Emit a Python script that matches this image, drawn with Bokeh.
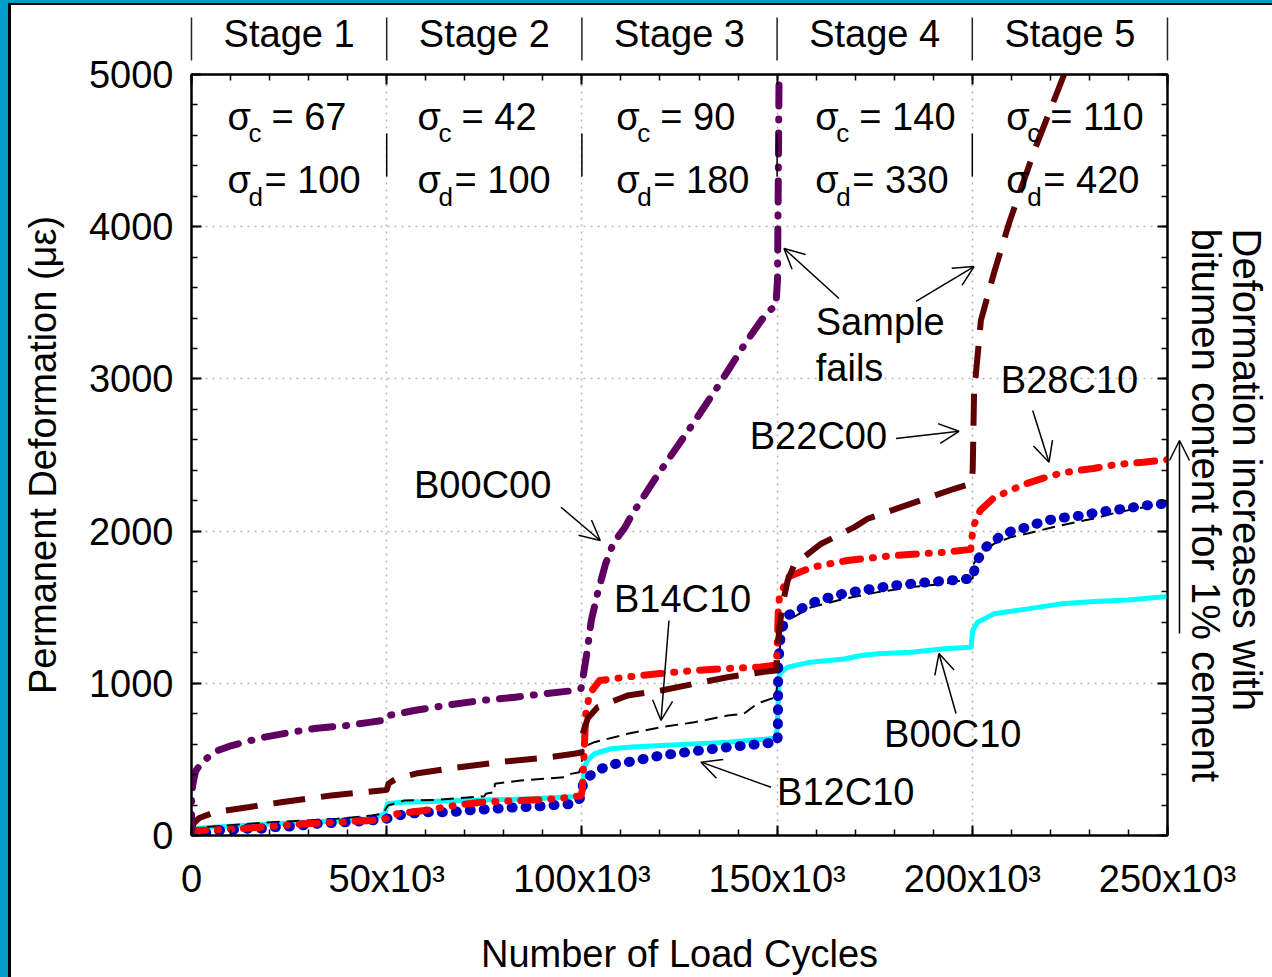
import math
from bokeh.plotting import figure
from bokeh.models import (Range1d, LinearAxis, SingleIntervalTicker, Label, Arrow,
                          OpenHead, Div)
from bokeh.layouts import row, column
from bokeh.core.properties import value
from bokeh.embed import file_html
from bokeh.resources import INLINE

FONT = "Liberation Sans"

# ---------------------------------------------------------------- data
# Permanent deformation (microstrain) against number of load cycles
b00c00_x = [0, 0, 300, 1000, 2400, 4500, 6700, 10300, 14500, 18700, 25600, 31500, 40000,
            46000, 49500, 50300, 53000, 57000, 65000, 74000, 83000, 91000, 97000, 99800,
            100500, 101500, 102400, 104000, 106000, 108000, 111000, 113000, 119000, 128500,
            135000, 142000, 147500, 149700, 150100, 150300, 150600]
b00c00_y = [0, 250, 330, 420, 473, 520, 558, 591, 620, 646, 679, 703, 723,
            745, 758, 788, 800, 821, 854, 887, 909, 933, 950, 966,
            1073, 1237, 1413, 1590, 1780, 1918, 2024, 2115, 2354, 2707,
            2957, 3240, 3440, 3480, 3650, 4300, 5300]

b22c00_x = [0, 500, 2000, 6000, 14500, 23000, 35800, 48600, 50000, 50500, 52500, 57500,
            66000, 78800, 91600, 98000, 99900, 100200, 101500, 104000, 111700, 120300,
            128800, 137300, 145900, 149700, 150150, 150600, 151500, 152700, 154400, 161300,
            169800, 173200, 181700, 195400, 199700, 200100, 200450, 202200, 205600, 209500,
            215900, 223600, 226000]
b22c00_y = [0, 79, 115, 153, 186, 219, 263, 296, 300, 342, 374, 407,
            440, 482, 514, 537, 545, 668, 770, 843, 920, 953,
            997, 1040, 1073, 1084, 1237, 1369, 1530, 1675, 1780, 1917,
            2026, 2081, 2157, 2278, 2311, 2398, 2904, 3384, 3700, 4030,
            4501, 5005, 5160]

b28c10_x = [0, 300, 3500, 11800, 20400, 28900, 37400, 46000, 49800, 50300, 52800, 59600,
            67300, 74200, 84400, 88700, 92900, 97200, 99800, 100100, 100400, 101000, 102000,
            104500, 111000, 120000, 128500, 137000, 145500, 149800, 150100, 150300, 150600,
            152700, 159000, 168000, 180000, 193000, 199600, 200200, 202000, 205300, 209600,
            214000, 218000, 222500, 226800, 231000, 235300, 239600, 243800, 250000]
b28c10_y = [0, 33, 35, 44, 59, 77, 87, 99, 110, 125, 143, 164,
            197, 219, 230, 235, 241, 252, 263, 300, 449, 801, 933,
            1018, 1040, 1064, 1084, 1097, 1106, 1120, 1300, 1478, 1566,
            1697, 1763, 1807, 1840, 1861, 1880, 2026, 2135, 2214, 2267,
            2313, 2346, 2379, 2398, 2411, 2431, 2444, 2453, 2470]

b12c10_x = [0, 6700, 10100, 14100, 17500, 21400, 24800, 28200, 31600, 35000, 38900, 42700,
            46100, 49900, 52600, 56000, 59900, 63300, 66700, 70100, 73500, 77400, 80800,
            84200, 88100, 91500, 94900, 98300, 100100, 100300, 104000, 107500, 111800,
            120300, 128800, 137400, 145900, 150100, 150200, 150250, 150300, 151000, 152700,
            156900, 160400, 167200, 171500, 180000, 188600, 197100, 200100, 200900, 203000,
            206900, 210400, 214200, 217600, 221400, 224700, 228300, 232100, 235400, 239300,
            242600, 246500, 250000]
b12c10_y = [0, 33, 37, 44, 44, 55, 59, 66, 77, 81, 87, 92,
            99, 110, 131, 143, 153, 153, 153, 164, 169, 175, 182,
            186, 190, 197, 204, 208, 263, 361, 427, 466, 482,
            526, 554, 580, 602, 613, 712, 933, 1130, 1347, 1446,
            1500, 1544, 1590, 1610, 1643, 1664, 1682, 1689, 1787, 1886,
            1960, 2004, 2026, 2059, 2083, 2092, 2103, 2124, 2135, 2148,
            2162, 2175, 2181]

b14c10_x = [0, 500, 3300, 20400, 37400, 46100, 49000, 50300, 54500, 63000, 71500, 75000,
            75400, 77600, 77700, 84400, 95500, 97200, 99300, 100000, 100200, 103200, 111700,
            120300, 128800, 137300, 141500, 143700, 145900, 149700, 150200, 151000, 152700,
            158700, 167200, 175800, 184300, 192800, 200100, 200400, 202200, 205600, 209900,
            214200, 219300, 225300, 231200, 237300, 244100, 250000]
b14c10_y = [0, 40, 55, 87, 110, 131, 143, 197, 230, 234, 252, 258,
            274, 285, 340, 361, 383, 405, 416, 470, 580, 613, 668,
            712, 744, 788, 800, 843, 876, 909, 1040, 1336, 1413,
            1500, 1555, 1599, 1632, 1654, 1689, 1787, 1853, 1918, 1960,
            1984, 2017, 2052, 2083, 2124, 2157, 2190]

b00c10_x = [0, 300, 5700, 22800, 40000, 46000, 49500, 50200, 54000, 70000, 87000, 99000,
            100100, 100600, 101400, 103200, 107500, 111800, 120300, 128800, 137400, 145900,
            149700, 150000, 150600, 152700, 158600, 167200, 171500, 175800, 184300, 192800,
            199700, 200100, 201400, 205600, 214200, 222700, 231300, 239800, 250000]
b00c10_y = [0, 45, 55, 79, 99, 110, 143, 208, 219, 230, 241, 256,
            274, 449, 493, 537, 570, 580, 591, 602, 613, 631,
            639, 700, 1062, 1106, 1139, 1160, 1183, 1194, 1204, 1227,
            1237, 1347, 1402, 1457, 1489, 1522, 1537, 1548, 1570]

# loading stages: confining and deviator stress (kPa)
stage_names = ["Stage 1", "Stage 2", "Stage 3", "Stage 4", "Stage 5"]
stage_bounds = [0, 50000, 100000, 150000, 200000, 250000]
sigma_c = [67, 42, 90, 140, 110]
sigma_d = [100, 100, 180, 330, 420]

x_tick_values = [0, 50000, 100000, 150000, 200000, 250000]
x_tick_labels = ["0", "50x10\u00b3", "100x10\u00b3", "150x10\u00b3", "200x10\u00b3", "250x10\u00b3"]

# ---------------------------------------------------------------- main figure
p = figure(width=1261, height=972, x_range=Range1d(0, 250000), y_range=Range1d(0, 5000),
           output_backend="svg", toolbar_location=None,
           min_border_left=180, min_border_right=105, min_border_top=69, min_border_bottom=142,
           x_axis_label="Number of Load Cycles",
           y_axis_label="Permanent Deformation (\u03bc\u03b5)")
p.background_fill_color = "white"
p.border_fill_color = "white"
p.outline_line_color = "black"
p.outline_line_width = 2

xt = SingleIntervalTicker(interval=50000, num_minor_ticks=5)
yt = SingleIntervalTicker(interval=1000, num_minor_ticks=5)


def style_axis(ax, labels=True):
    ax.axis_line_color = "black"
    ax.axis_line_width = 2
    ax.major_tick_in = 10
    ax.major_tick_out = 0
    ax.minor_tick_in = 6
    ax.minor_tick_out = 0
    ax.major_tick_line_color = "black"
    ax.major_tick_line_width = 2
    ax.minor_tick_line_color = "black"
    ax.minor_tick_line_width = 1.5
    if labels:
        ax.major_label_text_font = FONT
        ax.major_label_text_font_size = "38px"
        ax.major_label_text_color = "black"
        ax.axis_label_text_font = FONT
        ax.axis_label_text_font_size = "38px"
        ax.axis_label_text_font_style = "normal"
        ax.axis_label_text_color = "black"
    else:
        # mirrored axis: ticks only
        ax.major_label_text_color = None
        ax.major_label_text_font_size = "8px"
        ax.major_label_standoff = 0


xa = p.xaxis[0]
ya = p.yaxis[0]
xa.ticker = xt
ya.ticker = yt
p.xgrid[0].ticker = xt
p.ygrid[0].ticker = yt
style_axis(xa)
style_axis(ya)
xa.major_label_overrides = dict(zip(x_tick_values, x_tick_labels))
xa.major_label_standoff = 22
xa.axis_label_standoff = 30
ya.major_label_standoff = 18
ya.axis_label_standoff = 22

top_ax = LinearAxis(ticker=xt)
style_axis(top_ax, labels=False)
p.add_layout(top_ax, "above")
right_ax = LinearAxis(ticker=yt)
style_axis(right_ax, labels=False)
p.add_layout(right_ax, "right")

p.grid.grid_line_color = "#b4b4b4"
p.grid.grid_line_dash = "2 5"
p.grid.grid_line_width = 1.5

# ---------------------------------------------------------------- curves
p.line(b00c10_x, b00c10_y, line_color="#00ffff", line_width=5, line_join="round")
p.line(b14c10_x, b14c10_y, line_color="black", line_width=2, line_dash="13 7")
p.line(b12c10_x, b12c10_y, line_color="#0000c0", line_width=10, line_dash="1 13",
       line_cap="round", line_join="round")
p.line(b28c10_x, b28c10_y, line_color="#ff0000", line_width=7,
       line_dash="18 12 1 12 1 12", line_cap="round", line_join="round")
p.line(b22c00_x, b22c00_y, line_color="#600000", line_width=6, line_dash="32 16",
       line_join="round")
p.line(b00c00_x, b00c00_y, line_color="#600060", line_width=7, line_dash="21 13 1 13",
       line_cap="round", line_join="round")

# separators between the stress annotations
p.segment(x0=stage_bounds[1:-1], y0=4330, x1=stage_bounds[1:-1], y1=4613,
          line_color="black", line_width=1.5)

# stress annotations: sigma, subscript, value
sigma_x = [9200, 57900, 108800, 159800, 208700]
row_base = [4724, 4310]
sub_base = [4613, 4192]
subs = ["c", "d"]
rest_offset = [44, 37]
for r, vals in enumerate([sigma_c, sigma_d]):
    p.text(x=sigma_x, y=[row_base[r]] * 5, text=["\u03c3"] * 5,
           text_font=value(FONT), text_font_size="38px", text_baseline="alphabetic",
           text_align="left", text_color="black")
    p.text(x=sigma_x, y=[sub_base[r]] * 5, text=[subs[r]] * 5, x_offset=21,
           text_font=value(FONT), text_font_size="26px", text_baseline="alphabetic",
           text_align="left", text_color="black")
    p.text(x=sigma_x, y=[row_base[r]] * 5, text=[f"= {v}" for v in vals],
           x_offset=rest_offset[r], text_font=value(FONT), text_font_size="38px",
           text_baseline="alphabetic", text_align="left", text_color="black")

# ---------------------------------------------------------------- series callouts
callouts = [
    ("B00C00", 57000, 2306),
    ("B14C10", 108200, 1557),
    ("B12C10", 150000, 289),
    ("B00C10", 177400, 670),
    ("Sample", 159900, 3377),
    ("fails", 159900, 3070),
    ("B22C00", 143000, 2622),
    ("B28C10", 207300, 2996),
]
for txt, lx, ly in callouts:
    p.add_layout(Label(x=lx, y=ly, text=txt, text_align="left",
                       text_baseline="alphabetic", text_font=FONT,
                       text_font_size="38px", text_color="black"))

pointers = [
    (94650, 2157, 104700, 1938),
    (122300, 1413, 120260, 756),
    (148440, 317, 130510, 482),
    (195830, 802, 191470, 1196),
    (165860, 3528, 151770, 3857),
    (185580, 3510, 200440, 3738),
    (180460, 2608, 196590, 2656),
    (215470, 2792, 219650, 2453),
]
for x0, y0, x1, y1 in pointers:
    p.add_layout(Arrow(end=OpenHead(size=20, line_width=1.5, line_color="black"),
                       x_start=x0, y_start=y0, x_end=x1, y_end=y1,
                       line_color="black", line_width=1.5))

# ---------------------------------------------------------------- margin notes
# transparent layer over the whole page, sharing the main plot's data units,
# for the stage headers and the trend note that sit outside the plot frame
note = figure(width=1272, height=977, x_range=Range1d(-48924, 276896),
              y_range=Range1d(-933, 5486), min_border=0, x_axis_type=None,
              y_axis_type=None, toolbar_location=None, output_backend="svg",
              background_fill_color=None, border_fill_color=None,
              outline_line_color=None,
              styles={"position": "absolute", "left": "0px", "top": "0px",
                      "z-index": "5", "pointer-events": "none"})

stage_mid = [(a + b) / 2 for a, b in zip(stage_bounds[:-1], stage_bounds[1:])]
note.text(x=stage_mid, y=[5263] * 5, text=stage_names, text_align="center",
          text_baseline="alphabetic", text_font=value(FONT), text_font_size="38px",
          text_color="black")
note.segment(x0=stage_bounds, y0=5092, x1=stage_bounds, y1=5375,
             line_color="#222222", line_width=1.5)

note.add_layout(Arrow(end=OpenHead(size=20, line_width=1.5, line_color="black"),
                      x_start=253070, y_start=1327, x_end=253070, y_end=2595,
                      line_color="black", line_width=1.5))
note.text(x=[270240, 259990], y=[3988, 3988],
          text=["Deformation increases with", "bitumen content for 1% cement"],
          angle=-math.pi / 2, text_align="left", text_baseline="alphabetic",
          text_font=value(FONT), text_font_size="40px", text_color="black")

# ---------------------------------------------------------------- page frame
BLUE = "#0399c9"


def strip(w, h, color):
    return Div(text="", width=w, height=h, margin=(0, 0, 0, 0),
               styles={"background-color": color})


page = column(
    row(strip(8, 977, BLUE),
        column(strip(1264, 3, BLUE), strip(1264, 2, "black"),
               row(strip(3, 972, "black"), p, spacing=0), spacing=0),
        spacing=0),
    note, spacing=0)

open("out.html", "w").write(file_html(page, INLINE))
